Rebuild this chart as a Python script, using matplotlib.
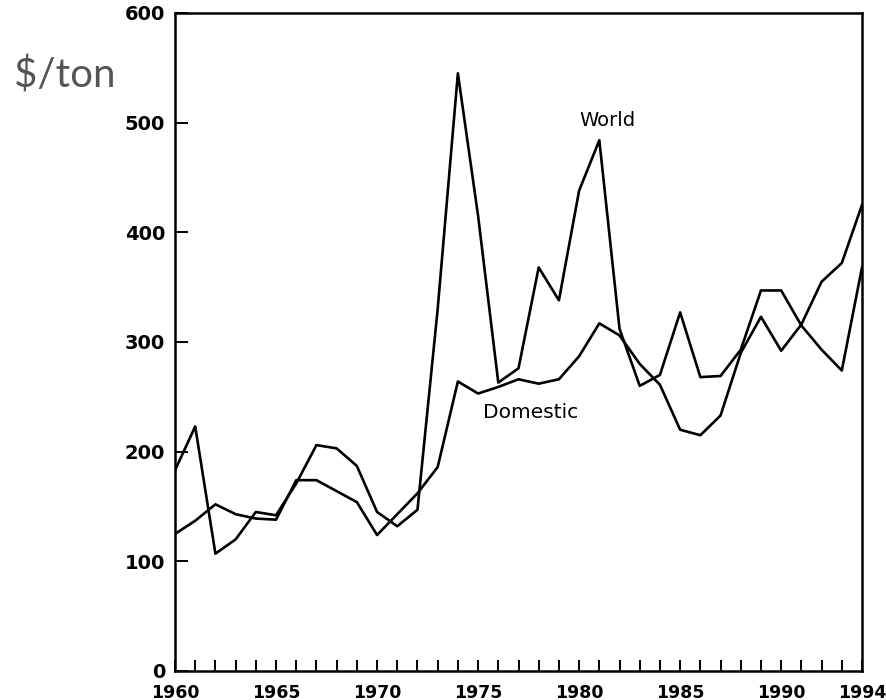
import matplotlib
matplotlib.use("Agg")
import matplotlib.pyplot as plt  # noqa: E402

# annual prices, $/ton
years = list(range(1960, 1995))
world = [183, 223, 107, 120, 145, 142, 171, 206, 203, 187,
         145, 132, 147, 330, 545, 415, 263, 276, 368, 338,
         438, 484, 312, 260, 270, 327, 268, 269, 293, 347,
         347, 315, 293, 274, 368]
domestic = [125, 137, 152, 143, 139, 138, 174, 174, 164, 154,
            124, 143, 162, 186, 264, 253, 259, 266, 262, 266,
            287, 317, 306, 280, 261, 220, 215, 233, 290, 323,
            292, 316, 355, 372, 425]

xtick_years = [1960, 1965, 1970, 1975, 1980, 1985, 1990, 1994]
yticks = [0, 100, 200, 300, 400, 500, 600]

fig = plt.figure(figsize=(8.86, 7.0), dpi=100)
ax = fig.add_axes([175 / 886, 1 - 671 / 700, (862 - 175) / 886, (671 - 13) / 700])

ax.plot(years, world, color="black", lw=1.9)
ax.plot(years, domestic, color="black", lw=1.9)

ax.set_xlim(1960, 1994)
ax.set_ylim(0, 600)

# every year gets an inward tick, only some are labelled
ax.set_xticks(years)
ax.set_xticklabels([str(y) if y in xtick_years else "" for y in years])
ax.set_yticks(yticks)
ax.tick_params(axis="x", direction="in", length=8, width=1.4, pad=9,
               labelsize=12.5)
ax.tick_params(axis="y", direction="in", length=9, width=1.4, pad=7,
               labelsize=14)
for lbl in ax.get_xticklabels() + ax.get_yticklabels():
    lbl.set_fontweight("bold")
    lbl.set_family("DejaVu Sans")

for sp in ax.spines.values():
    sp.set_linewidth(1.8)

ax.text(1981.4, 502, "World", ha="center", va="center", fontsize=14,
        family="DejaVu Sans")
ax.text(1977.6, 236, "Domestic", ha="center", va="center", fontsize=14.5,
        family="DejaVu Sans")

fig.text(65 / 886, 1 - 87 / 700, "$/ton", ha="center", va="baseline",
         fontsize=29, color="#555555", family="Lato")

fig.savefig("out.png", dpi=100)
